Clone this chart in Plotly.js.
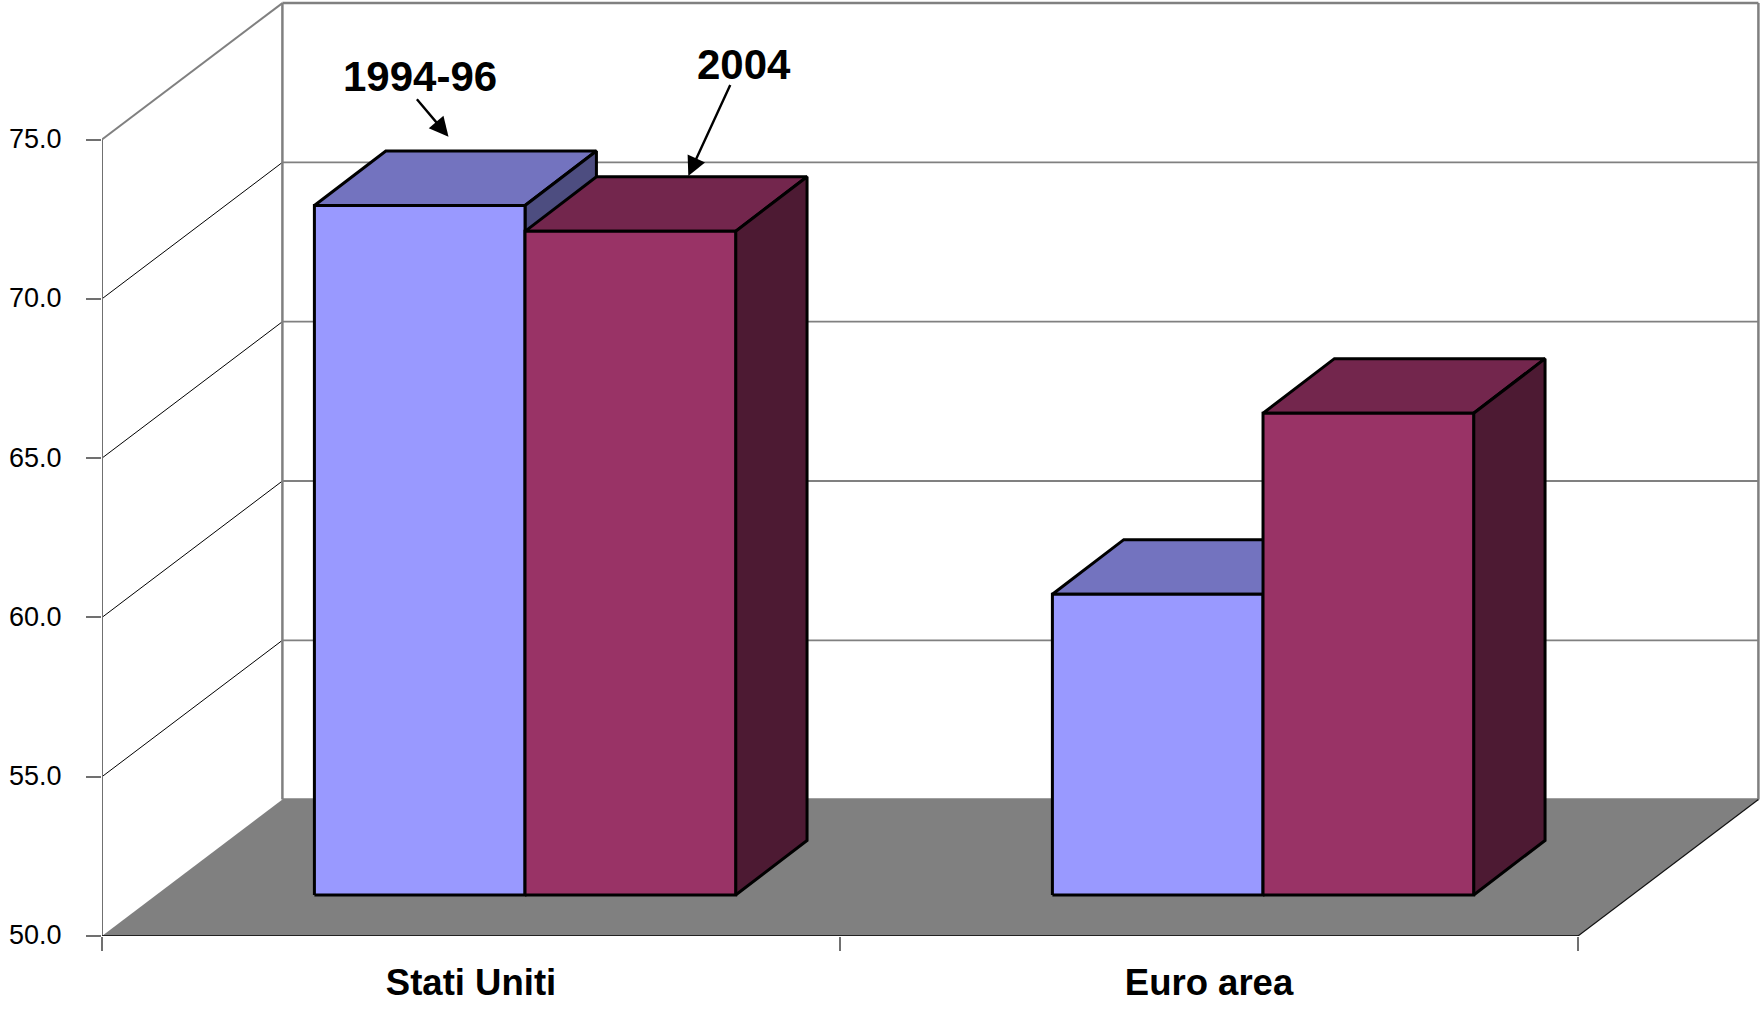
<!DOCTYPE html>
<html>
<head>
<meta charset="utf-8">
<script src="https://cdn.plot.ly/plotly-3.0.1.min.js"></script>
<style>html,body{margin:0;padding:0;background:#fff}#chart{width:1761px;height:1009px}</style>
</head>
<body>
<div id="chart"></div>
<script>
// Data
const categories = ['Stati Uniti', 'Euro area'];
const seriesNames = ['1994-96', '2004'];
const values199496 = [71.64, 59.44];
const values2004 = [70.83, 65.12];
const yTicks = [50, 55, 60, 65, 70, 75];

// Face colours
const colours = [
  {front: '#9999FF', top: '#7373BF', side: '#4D4D80'},
  {front: '#993366', top: '#73264D', side: '#4D1A33'}
];

// Pseudo-3D geometry in axis units (one x unit = one category)
const PX_PER_X = 738, PX_PER_Y = 31.86;
const LEFT = 102, BOTTOM = 936;
const X = px => (px - LEFT) / PX_PER_X;
const Y = py => 50 + (BOTTOM - py) / PX_PER_Y;
const wallDx = 180.4 / PX_PER_X, wallDy = 136.4 / PX_PER_Y;
const barDx = 71.4 / PX_PER_X, barDy = 54.6 / PX_PER_Y;
const baseDy = 41 / PX_PER_Y;
const barStart = 0.2878, barWidth = 0.2854;
const yMin = 50, yMax = 75, nCat = categories.length;

const traces = [];
const poly = (name, xs, ys, fill, lineColor, lineWidth) => traces.push({
  type: 'scatter', mode: 'lines', name, x: xs, y: ys,
  fill: 'toself', fillcolor: fill,
  line: {color: lineColor, width: lineWidth, shape: 'linear'},
  hoverinfo: 'skip', showlegend: false, cliponaxis: false
});
const line = (name, xs, ys, color, width) => traces.push({
  type: 'scatter', mode: 'lines', name, x: xs, y: ys,
  line: {color, width}, hoverinfo: 'skip', showlegend: false, cliponaxis: false
});

// Floor
poly('floor', [0, wallDx, nCat + wallDx, nCat, 0],
  [yMin, yMin + wallDy, yMin + wallDy, yMin, yMin], '#808080', 'rgba(0,0,0,0)', 0);

// Grid lines on back and side walls
yTicks.forEach(v => {
  const edge = v === yMax || v === yMin;
  line('back grid ' + v, [wallDx, nCat + wallDx], [v + wallDy, v + wallDy], '#808080', edge ? 2.5 : 1.8);
  if (v !== yMin) line('side grid ' + v, [0, wallDx], [v, v + wallDy], edge ? '#808080' : '#000000', edge ? 2 : 1);
});
// Wall edges
line('axis line', [0, 0], [yMin, yMax], '#707070', 2);
line('back left edge', [wallDx, wallDx], [yMin + wallDy, yMax + wallDy], '#808080', 2.5);
line('back right edge', [nCat + wallDx, nCat + wallDx], [yMin + wallDy, yMax + wallDy], '#808080', 2.5);
line('floor front edge', [0, nCat], [yMin, yMin], '#222222', 1.8);
line('floor right edge', [nCat, nCat + wallDx], [yMin, yMin + wallDy], '#111111', 1.2);

// Bars: each one made of front, top and side faces
const drawBar = (cat, s, v) => {
  const c = colours[s];
  const x0 = cat + barStart + s * barWidth, x1 = x0 + barWidth;
  const b = yMin + baseDy, t = v + baseDy;
  const label = categories[cat] + ' ' + seriesNames[s];
  const front = () => poly(label + ' front', [x0, x1, x1, x0, x0], [b, b, t, t, b], c.front, '#000000', 3);
  const top = () => poly(label + ' top', [x0, x1, x1 + barDx, x0 + barDx, x0],
    [t, t, t + barDy, t + barDy, t], c.top, '#000000', 3);
  const side = () => poly(label + ' side', [x1, x1 + barDx, x1 + barDx, x1, x1],
    [b, b + barDy, t + barDy, t, b], c.side, '#000000', 3);
  top(); side(); front();
};
categories.forEach((_, i) => {
  drawBar(i, 0, values199496[i]);
  drawBar(i, 1, values2004[i]);
});

const textFont = {family: '"Liberation Sans", Arial, sans-serif', size: 42, color: '#000000'};
const arrow = (fromPx, toPx) => ({
  xref: 'x', yref: 'y', axref: 'x', ayref: 'y', text: ' ', showarrow: true,
  font: {size: 1}, borderpad: 0,
  x: X(toPx[0]), y: Y(toPx[1]), ax: X(fromPx[0]), ay: Y(fromPx[1]),
  arrowhead: 2, arrowsize: 1.6, arrowwidth: 2.4, arrowcolor: '#000000', standoff: 0, startstandoff: 0
});
const label = (text, px) => ({
  xref: 'x', yref: 'y', x: X(px[0]), y: Y(px[1]), text: '<b>' + text + '</b>',
  showarrow: false, font: textFont, xanchor: 'center', yanchor: 'middle'
});

const layout = {
  width: 1761, height: 1009,
  margin: {l: LEFT, r: 0, t: 0, b: 1009 - BOTTOM, pad: 0},
  paper_bgcolor: '#ffffff', plot_bgcolor: '#ffffff',
  showlegend: false,
  xaxis: {
    range: [0, 1659 / PX_PER_X], showgrid: false, zeroline: false, showline: false,
    tickmode: 'array', tickvals: categories.map((_, i) => i + 0.5),
    ticktext: categories.map(c => '<b>' + c + '</b>'),
    ticks: '', ticklen: 0, ticklabelstandoff: 21,
    tickfont: {family: '"Liberation Sans", Arial, sans-serif', size: 36.5, color: '#000000'},
    minor: {tickmode: 'array', tickvals: [0, 1, 2], ticks: 'outside', ticklen: 14, tickwidth: 1.5, tickcolor: '#707070', showgrid: false}
  },
  yaxis: {
    range: [yMin, yMin + BOTTOM / PX_PER_Y], showgrid: false, zeroline: false, showline: false,
    tickmode: 'array', tickvals: yTicks, ticktext: yTicks.map(v => v.toFixed(1)),
    ticks: 'outside', ticklen: 15, tickwidth: 2, tickcolor: '#707070', ticklabelstandoff: 19, ticklabelshift: -1,
    tickfont: {family: '"Liberation Sans", Arial, sans-serif', size: 27, color: '#000000'}
  },
  annotations: [
    label(seriesNames[0], [420, 76.4]),
    label(seriesNames[1], [743.7, 64]),
    arrow([416.4, 98.7], [448.5, 136.7]),
    arrow([730.7, 84], [688.3, 176])
  ]
};

Plotly.newPlot('chart', traces, layout, {displayModeBar: false, staticPlot: true});
</script>
</body>
</html>
